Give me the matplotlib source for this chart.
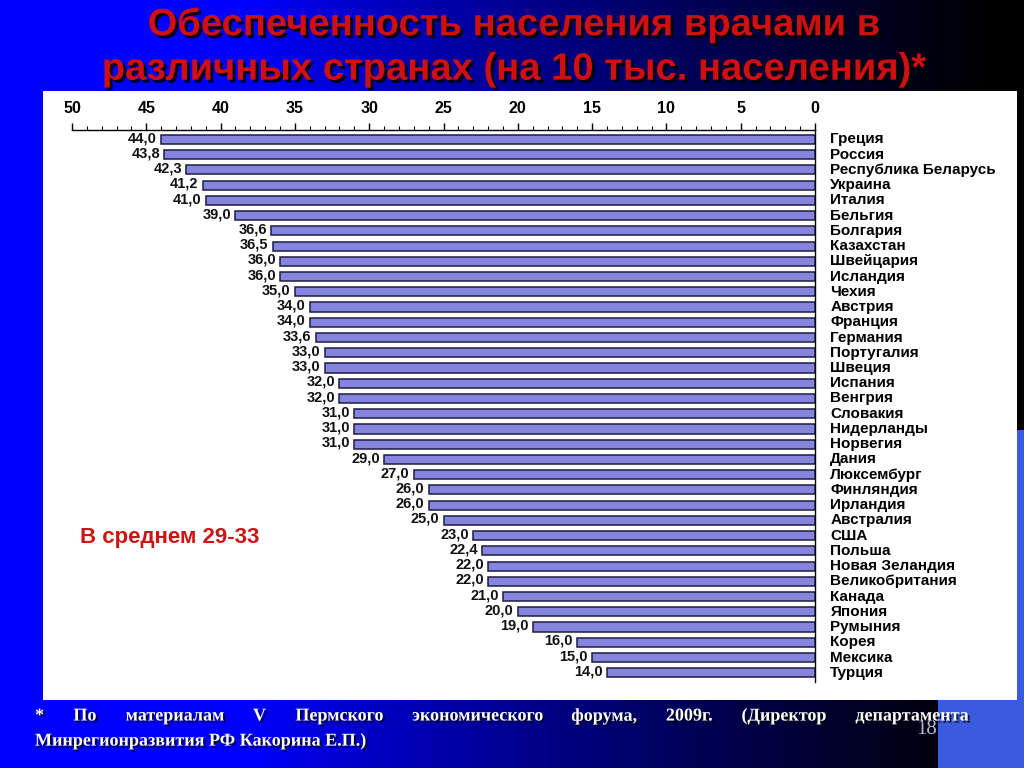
import numpy as np
import matplotlib
matplotlib.use("Agg")
import matplotlib.pyplot as plt
from matplotlib.patches import Rectangle
from matplotlib.ticker import MultipleLocator
import matplotlib.patheffects as pe

countries = ["Греция", "Россия", "Республика Беларусь", "Украина", "Италия",
             "Бельгия", "Болгария", "Казахстан", "Швейцария", "Исландия",
             "Чехия", "Австрия", "Франция", "Германия", "Португалия", "Швеция",
             "Испания", "Венгрия", "Словакия", "Нидерланды", "Норвегия", "Дания",
             "Люксембург", "Финляндия", "Ирландия", "Австралия", "США", "Польша",
             "Новая Зеландия", "Великобритания", "Канада", "Япония", "Румыния",
             "Корея", "Мексика", "Турция"]
values = [44.0, 43.8, 42.3, 41.2, 41.0, 39.0, 36.6, 36.5, 36.0, 36.0,
          35.0, 34.0, 34.0, 33.6, 33.0, 33.0, 32.0, 32.0, 31.0, 31.0, 31.0, 29.0,
          27.0, 26.0, 26.0, 25.0, 23.0, 22.4, 22.0, 22.0, 21.0, 20.0, 19.0,
          16.0, 15.0, 14.0]
x_ticks = [50, 45, 40, 35, 30, 25, 20, 15, 10, 5, 0]

title = "Обеспеченность населения врачами в\nразличных странах (на 10 тыс. населения)*"
note_text = "В среднем 29-33"
foot_line1 = "* По материалам V Пермского экономического форума, 2009г. (Директор департамента"
foot_line2 = "Минрегионразвития РФ Какорина Е.П.)"
page_no = "18"

W, H = 1024, 768
fig = plt.figure(figsize=(W / 100, H / 100), dpi=100)

# background gradient
bg = fig.add_axes([0, 0, 1, 1])
bg.set_xlim(0, W)
bg.set_ylim(H, 0)
bg.axis("off")
xs = np.linspace(0, 1, 512)
r = np.zeros_like(xs)
g = np.zeros_like(xs)
b = np.clip(1.0 - np.clip((xs - 0.25) / 0.72, 0, 1) ** 0.8, 0, 1)
grad = np.stack([r, g, b], axis=-1)[None, :, :]
grad = np.repeat(grad, 2, axis=0)
bg.imshow(grad, extent=[0, W, H, 0], aspect="auto", zorder=0)
bg.add_patch(Rectangle((938, 430), W - 938, H - 430, facecolor="#3a5ae0",
                       edgecolor="none", zorder=1))
bg.add_patch(Rectangle((43, 91), 1017 - 43, 700 - 91, facecolor="white",
                       edgecolor="none", zorder=2))

bg.text(514, 47, title, ha="center", va="center", fontsize=27.5,
        fontweight="bold", color="#d01010", linespacing=1.3,
        family=["Liberation Sans", "DejaVu Sans"],
        zorder=5,
        path_effects=[pe.withSimplePatchShadow(offset=(2, -2), shadow_rgbFace="black", alpha=0.9)])

bg.text(80, 537, note_text, ha="left", va="center", fontsize=16,
        fontweight="bold", color="#cc1414",
        family=["Liberation Sans", "DejaVu Sans"], zorder=5)

# footnote, justified first line
fig.canvas.draw()
renderer = fig.canvas.get_renderer()
words = foot_line1.split(" ")
fkw = dict(fontsize=13, fontweight="bold", color="white",
           family=["Liberation Serif", "DejaVu Serif"], zorder=5, va="center",
           path_effects=[pe.withSimplePatchShadow(offset=(1.5, -1.5), shadow_rgbFace="black", alpha=0.7)])
tmp = [bg.text(0, 716, w, ha="left", **fkw) for w in words]
widths = [t.get_window_extent(renderer).width for t in tmp]
x0, x1 = 35, 968
gap = (x1 - x0 - sum(widths)) / (len(words) - 1)
pos = x0
for t, wdt in zip(tmp, widths):
    t.set_x(pos)
    pos += wdt + gap
bg.text(35, 741, foot_line2, ha="left", **fkw)
bg.text(927, 729, page_no, ha="center", va="center", fontsize=15,
        color="#b0b8d8", family=["Liberation Serif", "DejaVu Serif"], zorder=4)

# chart
ax = fig.add_axes([72 / W, 1 - 681.9 / H, (815 - 72) / W, (681.9 - 130) / H])
ax.patch.set_alpha(0)
y = np.arange(len(values))
ax.barh(y, values, height=0.6, color="#8585e0", edgecolor="#1c1c40",
        linewidth=1.1, zorder=3)
ax.set_xlim(50, 0)
ax.set_ylim(35.6, -0.62)
ax.xaxis.tick_top()
ax.set_xticks(x_ticks)
ax.set_xticklabels([str(v) for v in x_ticks], fontsize=11.5, fontweight="bold",
                   family=["Liberation Sans", "DejaVu Sans"])
ax.xaxis.set_minor_locator(MultipleLocator(1))
ax.tick_params(axis="x", which="major", direction="out", length=5, width=1,
               pad=5, colors="black")
ax.tick_params(axis="x", which="minor", direction="out", length=3, width=0.8)
ax.set_yticks([])
for s in ["left", "bottom"]:
    ax.spines[s].set_visible(False)
ax.spines["top"].set_linewidth(1)
ax.spines["right"].set_linewidth(1)

for yi, v, c in zip(y, values, countries):
    ax.annotate(f"{v:.1f}".replace(".", ","), xy=(v, yi), xytext=(-3, 1),
                textcoords="offset points", ha="right", va="center",
                fontsize=10.5, fontweight="bold", color="#111111",
                family=["Liberation Sans", "DejaVu Sans"])
    ax.annotate(c, xy=(0, yi), xytext=(11, 0), textcoords="offset points",
                ha="left", va="center", fontsize=11, fontweight="bold",
                color="black", family=["Liberation Sans", "DejaVu Sans"],
                annotation_clip=False)

fig.savefig("out.png", dpi=100)
